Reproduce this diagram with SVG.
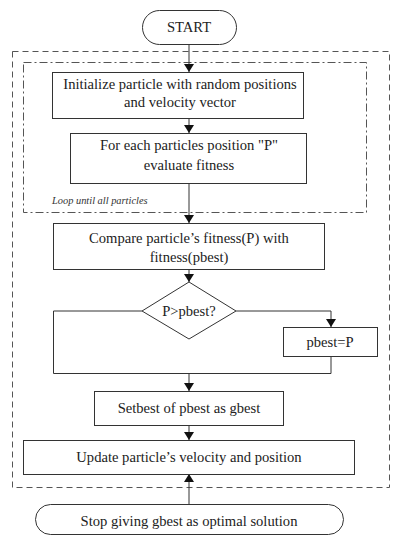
<svg xmlns="http://www.w3.org/2000/svg" width="398" height="537" viewBox="0 0 398 537">
<style>
.box{fill:#fff;stroke:#333;stroke-width:1}
.t{font-family:"Liberation Serif","Times New Roman",serif;font-size:14.6px;fill:#222;text-anchor:middle}
.c{fill:none;stroke:#333;stroke-width:1}
</style>
<defs>
<marker id="ah" viewBox="0 0 8 10" refX="8" refY="5" markerWidth="8" markerHeight="10" markerUnits="userSpaceOnUse" orient="auto">
<path d="M0,0 L8,5 L0,10 Z" fill="#111"/>
</marker>
</defs>
<rect width="398" height="537" fill="#fff"/>
<g id="outer-loop">
<rect x="12.5" y="51.5" width="377" height="436" fill="none" stroke="#555" stroke-width="1" stroke-dasharray="6,4"/>
</g>
<g id="inner-loop">
<rect x="23.5" y="62.5" width="343" height="150" fill="none" stroke="#555" stroke-width="1" stroke-dasharray="8,3,2,3"/>
<text x="52" y="204" style="font-family:'Liberation Serif',serif;font-size:10.4px;font-style:italic;fill:#333">Loop until all particles</text>
</g>
<g id="connectors">
<line class="c" x1="189" y1="44" x2="189" y2="72" marker-end="url(#ah)"/>
<line class="c" x1="189" y1="118" x2="189" y2="133" marker-end="url(#ah)"/>
<line class="c" x1="189" y1="183" x2="189" y2="223" marker-end="url(#ah)"/>
<line class="c" x1="189" y1="269" x2="189" y2="282" marker-end="url(#ah)"/>
<polyline class="c" points="236,311 331,311 331,327" marker-end="url(#ah)"/>
<polyline class="c" points="142,311 53.5,311 53.5,373.5 331,373.5 331,356"/>
<line class="c" x1="189" y1="373" x2="189" y2="391" marker-end="url(#ah)"/>
<line class="c" x1="189" y1="425" x2="189" y2="440" marker-end="url(#ah)"/>
<line class="c" x1="189" y1="504" x2="189" y2="474" marker-end="url(#ah)"/>
</g>
<g id="start">
<rect class="box" x="142.5" y="10.5" width="94" height="34" rx="17"/>
<text class="t" x="189" y="32">START</text>
</g>
<g id="init">
<rect class="box" x="52.5" y="72.5" width="251" height="46"/>
<text class="t" x="180" y="89">Initialize particle with random positions</text>
<text class="t" x="180" y="107">and velocity vector</text>
</g>
<g id="evaluate">
<rect class="box" x="70.5" y="133.5" width="236" height="50"/>
<text class="t" x="189" y="150">For each particles position "P"</text>
<text class="t" x="189" y="170">evaluate fitness</text>
</g>
<g id="compare">
<rect class="box" x="53.5" y="223.5" width="271" height="46"/>
<text class="t" x="189" y="243">Compare particle’s fitness(P) with</text>
<text class="t" x="189" y="262">fitness(pbest)</text>
</g>
<g id="decision">
<polygon class="box" points="189,282 236,311 189,339 142,311"/>
<text class="t" x="189" y="316">P&gt;pbest?</text>
</g>
<g id="pbest">
<rect class="box" x="283.5" y="327.5" width="94" height="29"/>
<text class="t" x="330" y="347">pbest=P</text>
</g>
<g id="setbest">
<rect class="box" x="94.5" y="391.5" width="189" height="34"/>
<text class="t" x="189" y="413">Setbest of pbest as gbest</text>
</g>
<g id="update">
<rect class="box" x="23.5" y="440.5" width="331" height="34"/>
<text class="t" x="189" y="462">Update particle’s velocity and position</text>
</g>
<g id="stop">
<rect class="box" x="35.5" y="504.5" width="308" height="30" rx="15"/>
<text class="t" x="189" y="526">Stop giving gbest as optimal solution</text>
</g>
</svg>
